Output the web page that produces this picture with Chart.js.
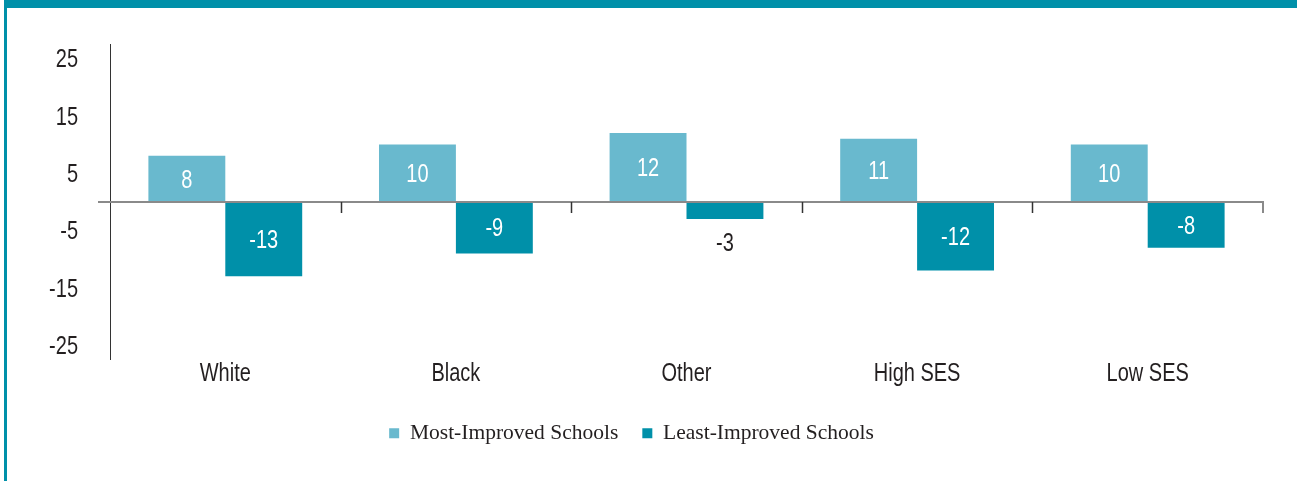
<!DOCTYPE html>
<html>
<head>
<meta charset="utf-8">
<title>Most- vs Least-Improved Schools</title>
<script src="https://cdn.jsdelivr.net/npm/chart.js@4.4.1/dist/chart.umd.min.js"></script>
<style>
  html, body { margin: 0; padding: 0; background: #fff; }
  #frame { position: relative; width: 1297px; height: 481px; overflow: hidden; }
  #topBar { position: absolute; left: 4px; top: 0; width: 1293px; height: 8px; background: #0090a9; }
  #leftBar { position: absolute; left: 4px; top: 0; width: 3px; height: 481px; background: #0090a9; }
  #wrap { position: absolute; left: 0; top: 0; width: 1297px; height: 481px; }
</style>
</head>
<body>
<div id="frame">
  <div id="wrap"><canvas id="myChart"></canvas></div>
  <div id="topBar"></div>
  <div id="leftBar"></div>
</div>
<script>
const categories = ["White", "Black", "Other", "High SES", "Low SES"];
const mostImproved = [8, 10, 12, 11, 10];
const leastImproved = [-13, -9, -3, -12, -8];
const yTicks = [25, 15, 5, -5, -15, -25];

const colorLight = "#69b9ce";
const colorDark = "#0090a9";
const textColor = "#231f20";
const sansFont = "'Liberation Sans', Arial, sans-serif";
const serifFont = "'Liberation Serif', 'DejaVu Serif', serif";

// condensed look: squeeze the glyphs horizontally
const narrowText = (ctx, text, x, y, align, color) => {
  ctx.save();
  ctx.font = "25px " + sansFont;
  ctx.fillStyle = color;
  ctx.textAlign = align;
  ctx.textBaseline = "middle";
  ctx.translate(x, y + 2);
  ctx.scale(0.8, 1);
  ctx.fillText(text, 0, 0);
  ctx.restore();
};

// axis labels drawn from the scales
const axisLabelPlugin = {
  id: "axisLabels",
  afterDraw(chart) {
    const { ctx, chartArea, scales } = chart;
    yTicks.forEach((v) => {
      narrowText(ctx, String(v), chartArea.left - 32, scales.y.getPixelForValue(v), "right", textColor);
    });
    categories.forEach((c, i) => {
      narrowText(ctx, c, scales.x.getPixelForValue(i), chartArea.bottom + 13, "center", textColor);
    });
  },
};

// horizontal zero line with the category separators hanging below it
const zeroLinePlugin = {
  id: "zeroLine",
  afterDatasetsDraw(chart) {
    const { ctx, chartArea, scales } = chart;
    const y0 = Math.round(scales.y.getPixelForValue(0));
    const step = (chartArea.right - chartArea.left) / categories.length;
    ctx.save();
    ctx.strokeStyle = "#8a8a8a";
    ctx.lineWidth = 2;
    ctx.beginPath();
    ctx.moveTo(chartArea.left - 12, y0);
    ctx.lineTo(chartArea.right, y0);
    ctx.lineTo(chartArea.right, y0 + 11);
    ctx.stroke();
    ctx.strokeStyle = "#333";
    ctx.lineWidth = 1.5;
    for (let i = 1; i < categories.length; i++) {
      const x = Math.round(chartArea.left + step * i) + 0.5;
      ctx.beginPath();
      ctx.moveTo(x, y0);
      ctx.lineTo(x, y0 + 11);
      ctx.stroke();
    }
    ctx.restore();
  },
};

// value labels: inside the bar in white, below it when the bar is too short
const valueLabelPlugin = {
  id: "valueLabels",
  afterDatasetsDraw(chart) {
    const { ctx } = chart;
    chart.data.datasets.forEach((ds, di) => {
      const meta = chart.getDatasetMeta(di);
      meta.data.forEach((bar, i) => {
        const v = ds.data[i];
        const h = Math.abs(bar.base - bar.y);
        let ty = (bar.y + bar.base) / 2;
        let color = "#fff";
        if (h < 30) {
          ty = v < 0 ? bar.y + 23 : bar.y - 23;
          color = textColor;
        }
        narrowText(ctx, String(v), bar.x, ty, "center", color);
      });
    });
  },
};

const data = {
  labels: categories,
  datasets: [
    {
      label: "Most-Improved Schools",
      data: mostImproved,
      backgroundColor: colorLight,
      borderWidth: 0,
      categoryPercentage: 0.667,
      barPercentage: 1,
    },
    {
      label: "Least-Improved Schools",
      data: leastImproved,
      backgroundColor: colorDark,
      borderWidth: 0,
      categoryPercentage: 0.667,
      barPercentage: 1,
    },
  ],
};

const config = {
  type: "bar",
  data,
  options: {
    responsive: true,
    maintainAspectRatio: false,
    animation: false,
    layout: { padding: { left: 0, right: 34, top: 44, bottom: 27 } },
    plugins: {
      tooltip: { enabled: false },
      legend: {
        position: "bottom",
        labels: {
          boxWidth: 10,
          boxHeight: 10,
          padding: 24,
          color: textColor,
          font: { family: serifFont, size: 21.5 },
        },
      },
    },
    scales: {
      x: {
        grid: { display: false, drawTicks: false },
        border: { display: false },
        ticks: { display: false },
        afterFit: (scale) => { scale.height = 39; },
      },
      y: {
        min: -27.5,
        max: 27.5,
        grid: { display: false, drawTicks: false },
        border: { display: true, color: "#333", width: 1 },
        ticks: { display: false },
        afterBuildTicks: (scale) => { scale.ticks = yTicks.map((v) => ({ value: v })); },
        afterFit: (scale) => { scale.width = 110; },
      },
    },
  },
  plugins: [zeroLinePlugin, valueLabelPlugin, axisLabelPlugin],
};

const myChart = new Chart(document.getElementById("myChart"), config);
</script>
</body>
</html>
